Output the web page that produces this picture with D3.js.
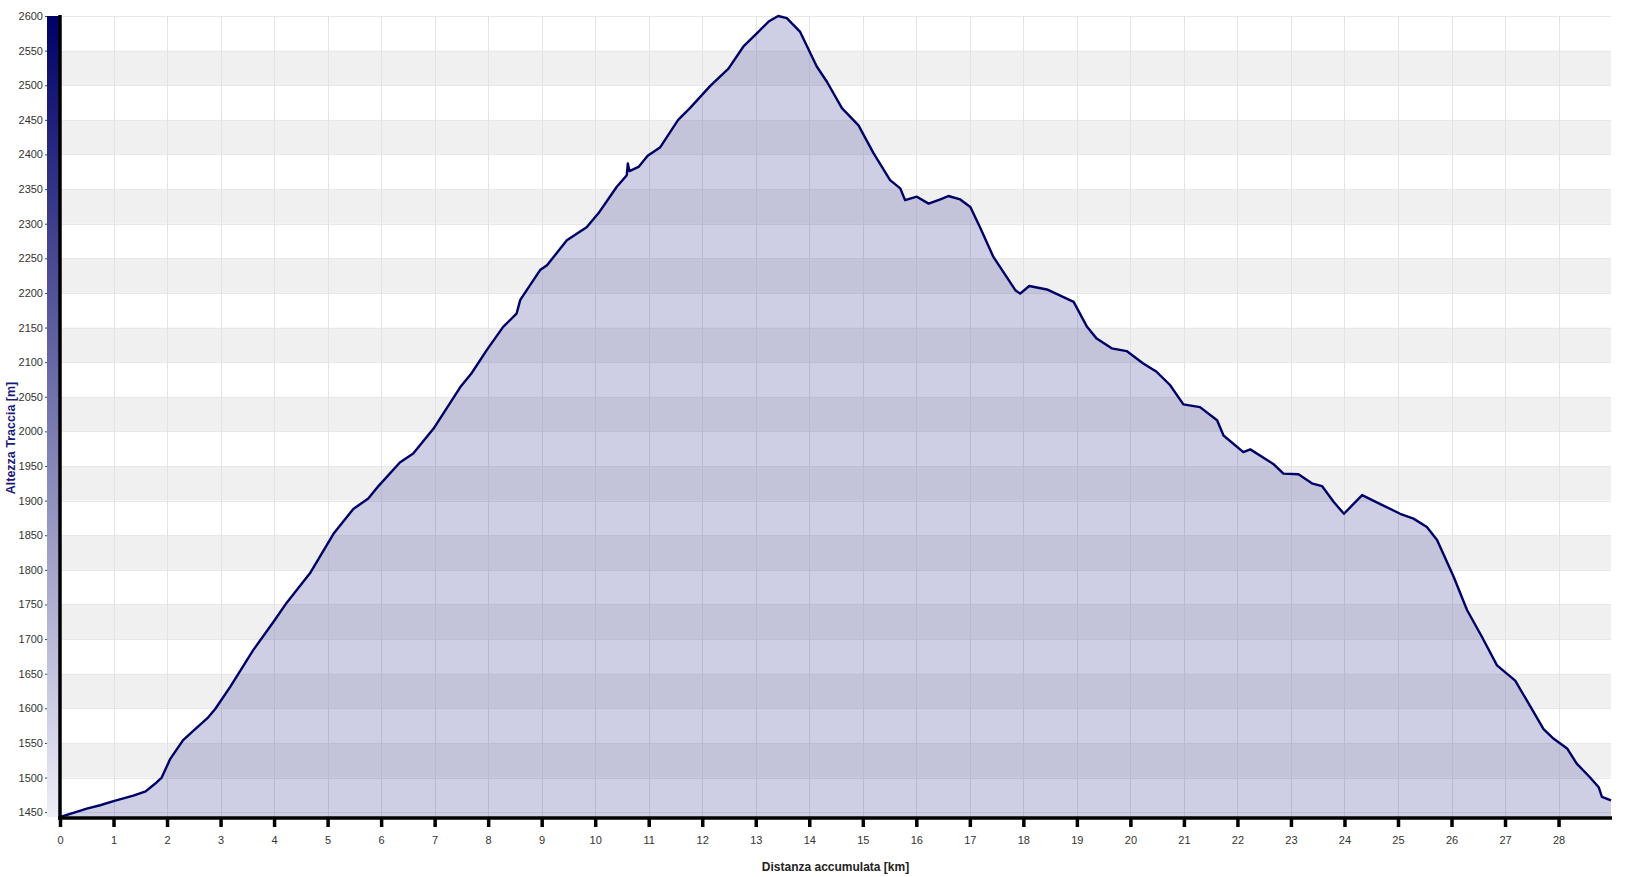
<!DOCTYPE html>
<html>
<head>
<meta charset="utf-8">
<script src="https://cdn.jsdelivr.net/npm/d3@7"></script>
<style>
	body { margin: 0; background: #fff; }
	#chart { display: block; }
	.tick text { font-family: "Liberation Sans", Arial, sans-serif; font-size: 11px; fill: #333; }
</style>
</head>
<body>
<svg id="chart" width="1638" height="877"></svg>
<script>

// distance along the track [km]
var distKm = [0, 0.25, 0.5, 0.75, 1.0, 1.37, 1.6, 1.775, 1.9, 2.06, 2.3, 2.5, 2.77, 2.9, 3.18, 3.61, 3.99, 4.24, 4.67,
	5.11, 5.48, 5.76, 5.95, 6.35, 6.6, 6.98, 7.48, 7.69, 7.97, 8.28, 8.53, 8.6, 8.97, 9.1, 9.47, 9.84, 10.06, 10.4,
	10.59, 10.61, 10.64, 10.81, 10.98, 11.21, 11.55, 11.77, 12.15, 12.49, 12.77, 13.02, 13.24, 13.42, 13.58, 13.83,
	14.14, 14.33, 14.61, 14.92, 15.2, 15.51, 15.7, 15.79, 16.01, 16.23, 16.45, 16.6, 16.82, 17.01, 17.19, 17.44,
	17.85, 17.94, 18.11, 18.44, 18.75, 18.94, 19.19, 19.37, 19.65, 19.93, 20.24, 20.49, 20.74, 20.99, 21.3, 21.62,
	21.74, 22.11, 22.24, 22.67, 22.86, 23.14, 23.39, 23.58, 23.8, 23.99, 24.33, 24.67, 25.04, 25.29, 25.54, 25.73,
	26.04, 26.29, 26.57, 26.85, 27.19, 27.41, 27.72, 27.91, 28.16, 28.34, 28.59, 28.75, 28.81, 28.98];

// track altitude [m]
var altM = [1443, 1449, 1455, 1460, 1466, 1474, 1480, 1491, 1500, 1527, 1554, 1568, 1587, 1599, 1631, 1684, 1725, 1753, 1795,
	1852, 1888, 1903, 1921, 1955, 1968, 2004, 2064, 2084, 2117, 2151, 2170, 2190, 2233, 2240, 2276, 2295, 2315, 2353,
	2370, 2387, 2376, 2382, 2398, 2410, 2450, 2467, 2499, 2524, 2556, 2575, 2592, 2600, 2597, 2577,
	2527, 2505, 2467, 2442, 2402, 2363, 2351, 2334, 2339, 2329, 2335, 2340, 2335, 2324, 2295, 2252,
	2204, 2199, 2210, 2205, 2194, 2187, 2151, 2134, 2120, 2116, 2098, 2086, 2067, 2039, 2035, 2016,
	1994, 1970, 1974, 1953, 1939, 1938, 1925, 1921, 1898, 1881, 1908, 1895, 1881, 1874, 1862, 1843,
	1790, 1742, 1703, 1662, 1640, 1611, 1570, 1556, 1542, 1520, 1500, 1486, 1472, 1467];

var xTicks = d3.range(0, 29, 1);
var yTicks = d3.range(1450, 2601, 50);
var xDomain = [0, 28.98];
var yDomain = [1443, 2600];

var xLabel = "Distanza accumulata [km]";
var yLabel = "Altezza Traccia [m]";

var margin = {top: 16, right: 27, bottom: 60, left: 60},
	W = 1638, H = 877,
	w = W - margin.left - margin.right,
	h = H - margin.top - margin.bottom;

var data = distKm.map(function(d, i) { return {km: d, alt: altM[i]}; });

var xScale = d3.scaleLinear().domain(xDomain).range([0, w]);
var yScale = d3.scaleLinear().domain(yDomain).range([h, 0]);

var svg = d3.select("#chart");

var defs = svg.append("defs");
var grad = defs.append("linearGradient")
	.attr("id", "barGrad")
	.attr("x1", 0).attr("y1", 0).attr("x2", 0).attr("y2", 1);
grad.append("stop").attr("offset", "0%").attr("stop-color", "#000066");
grad.append("stop").attr("offset", "100%").attr("stop-color", "#eeeef8");

var chart = svg.append("g")
	.attr("transform", "translate(" + margin.left + "," + margin.top + ")");

// alternating horizontal bands
chart.append("g")
	.selectAll("rect")
	.data(yTicks.filter(function(v) { return v % 100 === 0 && v < yDomain[1]; }))
	.enter()
	.append("rect")
	.attr("x", 0)
	.attr("width", w)
	.attr("y", function(v) { return yScale(v + 50); })
	.attr("height", function(v) { return yScale(v) - yScale(v + 50); })
	.attr("fill", "#f0f0f0");

// horizontal band edges
chart.append("g")
	.selectAll("line")
	.data(yTicks)
	.enter()
	.append("line")
	.attr("x1", 0).attr("x2", w)
	.attr("y1", function(v) { return Math.round(yScale(v)) + 0.5; })
	.attr("y2", function(v) { return Math.round(yScale(v)) + 0.5; })
	.attr("stroke", "#e8e8e8");

// vertical grid
chart.append("g")
	.selectAll("line")
	.data(xTicks)
	.enter()
	.append("line")
	.attr("x1", function(d) { return Math.round(xScale(d)) + 0.5; })
	.attr("x2", function(d) { return Math.round(xScale(d)) + 0.5; })
	.attr("y1", 0).attr("y2", h)
	.attr("stroke", "#e3e3e3");

var area = d3.area()
	.x(function(d) { return xScale(d.km); })
	.y0(h)
	.y1(function(d) { return yScale(d.alt); });

var line = d3.line()
	.x(function(d) { return xScale(d.km); })
	.y(function(d) { return yScale(d.alt); });

chart.append("path")
	.datum(data)
	.attr("d", area)
	.attr("fill", "#3a3a96")
	.attr("fill-opacity", 0.25);

chart.append("path")
	.datum(data)
	.attr("d", line)
	.attr("fill", "none")
	.attr("stroke", "#000066")
	.attr("stroke-width", 2.4)
	.attr("stroke-linejoin", "round");

// y axis
var yAxis = d3.axisLeft(yScale)
	.tickValues(yTicks)
	.tickFormat(d3.format("d"))
	.tickSize(15)
	.tickPadding(2);

var yg = chart.append("g")
	.attr("class", "yAxis")
	.call(yAxis);
yg.select(".domain").remove();
yg.selectAll(".tick line").attr("stroke", "#444");

// gradient bar next to the y axis
chart.append("rect")
	.attr("x", -13)
	.attr("y", 0)
	.attr("width", 12)
	.attr("height", h)
	.attr("fill", "url(#barGrad)");

chart.append("line")
	.attr("x1", 0).attr("x2", 0)
	.attr("y1", -1).attr("y2", h + 2)
	.attr("stroke", "#000")
	.attr("stroke-width", 3.5);

// x axis
var xAxis = d3.axisBottom(xScale)
	.tickValues(xTicks)
	.tickFormat(d3.format("d"))
	.tickSize(9)
	.tickPadding(9);

var xg = chart.append("g")
	.attr("class", "xAxis")
	.attr("transform", "translate(0," + (h + 1) + ")")
	.call(xAxis);
xg.select(".domain").remove();
xg.selectAll(".tick line").attr("stroke", "#000").attr("stroke-width", 3.5);

chart.append("line")
	.attr("x1", -2).attr("x2", w + 1)
	.attr("y1", h + 1).attr("y2", h + 1)
	.attr("stroke", "#000")
	.attr("stroke-width", 3.5);

svg.append("text")
	.attr("x", margin.left + w / 2)
	.attr("y", 871)
	.attr("text-anchor", "middle")
	.style("font-family", "'Liberation Sans', Arial, sans-serif")
	.style("font-size", "12px")
	.style("font-weight", "bold")
	.attr("fill", "#222")
	.text(xLabel);

svg.append("text")
	.attr("transform", "translate(15," + 438 + ") rotate(-90)")
	.attr("text-anchor", "middle")
	.style("font-family", "'Liberation Sans', Arial, sans-serif")
	.style("font-size", "12.5px")
	.style("font-weight", "bold")
	.attr("fill", "#1a1a7a")
	.text(yLabel);

</script>
</body>
</html>
